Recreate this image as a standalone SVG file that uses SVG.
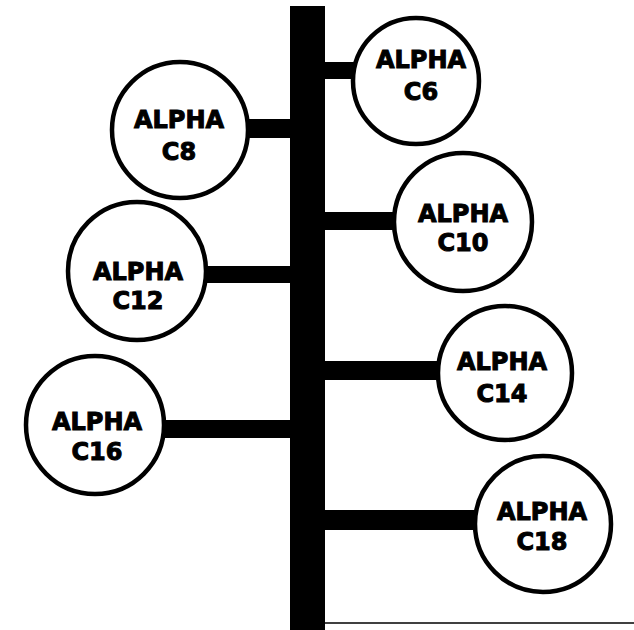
<svg xmlns="http://www.w3.org/2000/svg" width="634" height="630" viewBox="0 0 634 630">
<style>
.node circle{fill:#fff;stroke:#000;stroke-width:4.5}
.node text{font-family:"DejaVu Sans","Liberation Sans",sans-serif;font-weight:bold;font-size:24px;text-anchor:middle;fill:#000;stroke:#000;stroke-width:1}
.conn rect{fill:#000}
</style>
<rect width="634" height="630" fill="#fff"/>
<g id="connectors" class="conn">
<rect id="trunk" x="290" y="6" width="35" height="624"/>
<rect x="325" y="62" width="30" height="17"/>
<rect x="248" y="119" width="42" height="19"/>
<rect x="325" y="212" width="70" height="18"/>
<rect x="205" y="266" width="85" height="17"/>
<rect x="325" y="361" width="114" height="19"/>
<rect x="163" y="420" width="127" height="18"/>
<rect x="325" y="510" width="150" height="20"/>
<line x1="325" y1="623" x2="634" y2="623" stroke="#000" stroke-width="1.5"/>
</g>
<g id="c6" class="node"><circle cx="416" cy="81" r="63"/><text x="421" y="68">ALPHA</text><text x="421" y="100">C6</text></g>
<g id="c8" class="node"><circle cx="180" cy="130" r="68"/><text x="179" y="128">ALPHA</text><text x="179" y="160">C8</text></g>
<g id="c10" class="node"><circle cx="463" cy="222" r="69"/><text x="463" y="222">ALPHA</text><text x="463" y="251">C10</text></g>
<g id="c12" class="node"><circle cx="137" cy="271" r="69"/><text x="138" y="280">ALPHA</text><text x="138" y="309">C12</text></g>
<g id="c14" class="node"><circle cx="505" cy="373" r="67"/><text x="502" y="370">ALPHA</text><text x="502" y="402">C14</text></g>
<g id="c16" class="node"><circle cx="95" cy="425" r="69"/><text x="97" y="430">ALPHA</text><text x="97" y="460">C16</text></g>
<g id="c18" class="node"><circle cx="543" cy="524" r="68"/><text x="542" y="520">ALPHA</text><text x="542" y="550">C18</text></g>
</svg>
